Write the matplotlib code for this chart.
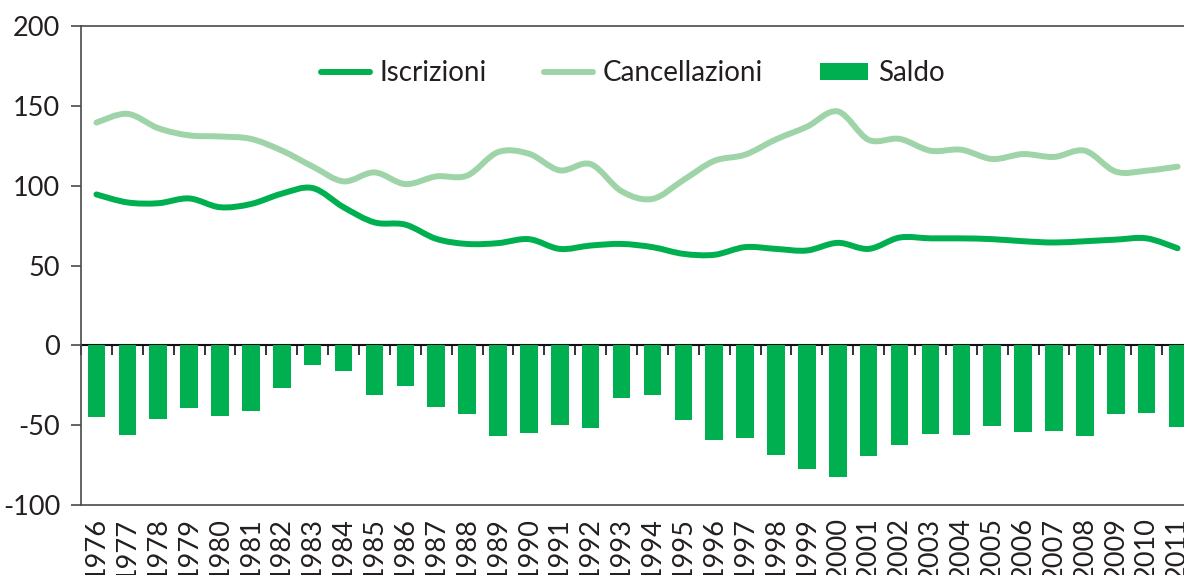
import numpy as np
import matplotlib
matplotlib.use("Agg")
import matplotlib.pyplot as plt
from matplotlib.path import Path
from matplotlib.patches import PathPatch, Patch
from matplotlib.lines import Line2D

years = [str(y) for y in range(1976, 2012)]
iscrizioni = [94.5, 89.5, 89, 92, 86.5, 88.5, 95, 98.5, 86.5, 77, 75.6, 66.7,
              63.5, 64, 66.5, 60.4, 62.5, 63.5, 61.5, 57.3, 56.7, 61.5, 60.4, 59.4,
              64.2, 60.4, 67.5, 67, 67, 66.5, 65.2, 64.4, 65.2, 66.2, 67, 60.8]
cancellazioni = [139.5, 145, 136, 131.5, 130.8, 129.3, 122, 112, 102.7, 108.3, 101, 105.8,
                 106.3, 121, 120, 109.6, 113.5, 96.5, 91.7, 103.5, 115.5, 119.4, 129, 136.9,
                 146.5, 128.7, 129.3, 121.9, 122.5, 116.7, 119.8, 118, 121.9, 108.8, 109.4, 111.9]
saldo = [-45, -56, -46, -39, -44.4, -41, -26.7, -12.3, -15.8, -31, -25.6, -38.8,
         -43.3, -56.7, -54.8, -50, -51.5, -33, -31, -46.7, -59.6, -58.3, -68.7, -77.3,
         -82.7, -69.6, -62.7, -55.6, -56, -50.4, -54.2, -53.7, -56.7, -42.9, -42.5, -51.4]

labels = ["Iscrizioni", "Cancellazioni", "Saldo"]
yticks = [-100, -50, 0, 50, 100, 150, 200]

DARK = "#00B050"
LIGHT = "#9FD4A8"
FRAME = "#4a4a4a"
TEXT = "#231F20"

plt.rcParams['font.family'] = ['Lato', 'DejaVu Sans']

fig = plt.figure(figsize=(11.84, 5.75), dpi=100)
ax = fig.add_axes([81/1184, 1 - 505/575, (1193 - 81)/1184, (505 - 26)/575])

x = np.arange(len(years))
ax.bar(x, saldo, width=0.57, color=DARK, zorder=2)


def smooth_path(xs, ys):
    pts = np.column_stack([xs, ys]).astype(float)
    n = len(pts)
    verts = [pts[0]]
    codes = [Path.MOVETO]
    for i in range(n - 1):
        p0 = pts[max(i - 1, 0)]
        p1 = pts[i]
        p2 = pts[i + 1]
        p3 = pts[min(i + 2, n - 1)]
        c1 = p1 + (p2 - p0) / 6.0
        c2 = p2 - (p3 - p1) / 6.0
        verts += [c1, c2, p2]
        codes += [Path.CURVE4] * 3
    return Path(verts, codes)


for vals, col in [(cancellazioni, LIGHT), (iscrizioni, DARK)]:
    patch = PathPatch(smooth_path(x, vals), facecolor='none', edgecolor=col,
                      lw=4.3, capstyle='round', joinstyle='round', zorder=3)
    ax.add_patch(patch)

ax.set_xlim(-0.5, len(years) - 0.5)
ax.set_ylim(-100, 200)
ax.set_yticks(yticks)
ax.set_yticklabels([str(v) for v in yticks])
ax.tick_params(axis='y', direction='out', length=7, width=1.2, color=FRAME,
               labelsize=19.5, labelcolor=TEXT, pad=8)

ax.set_xticks(x)
ax.set_xticklabels(years, rotation=90, fontsize=19.5, color=TEXT)
ax.tick_params(axis='x', length=0, pad=9)

for s in ['top', 'bottom', 'left', 'right']:
    ax.spines[s].set_color(FRAME)
    ax.spines[s].set_linewidth(1.2)

# category axis at zero
sec = ax.secondary_xaxis(1/3)
sec.set_xticks(np.arange(len(years) + 1) - 0.5)
sec.tick_params(axis='x', direction='out', length=7, width=1.2, color='#111111',
                labelbottom=False, labeltop=False)
sec.xaxis.set_ticks_position('bottom')
sec.tick_params(labelbottom=False)
sec.spines['bottom'].set_color('#111111')
sec.spines['bottom'].set_linewidth(1.5)

handles = [Line2D([0], [0], color=DARK, lw=4.3, solid_capstyle='round'),
           Line2D([0], [0], color=LIGHT, lw=4.3, solid_capstyle='round'),
           Patch(facecolor=DARK, edgecolor='none')]
leg = fig.legend(handles, labels, ncol=3, loc='center', bbox_to_anchor=(633/1184, 1 - 73/575),
                 frameon=False, fontsize=20, handlelength=1.75, handleheight=0.55,
                 handletextpad=0.35, columnspacing=2.05)
for t in leg.get_texts():
    t.set_color(TEXT)

fig.savefig("out.png", dpi=100)
